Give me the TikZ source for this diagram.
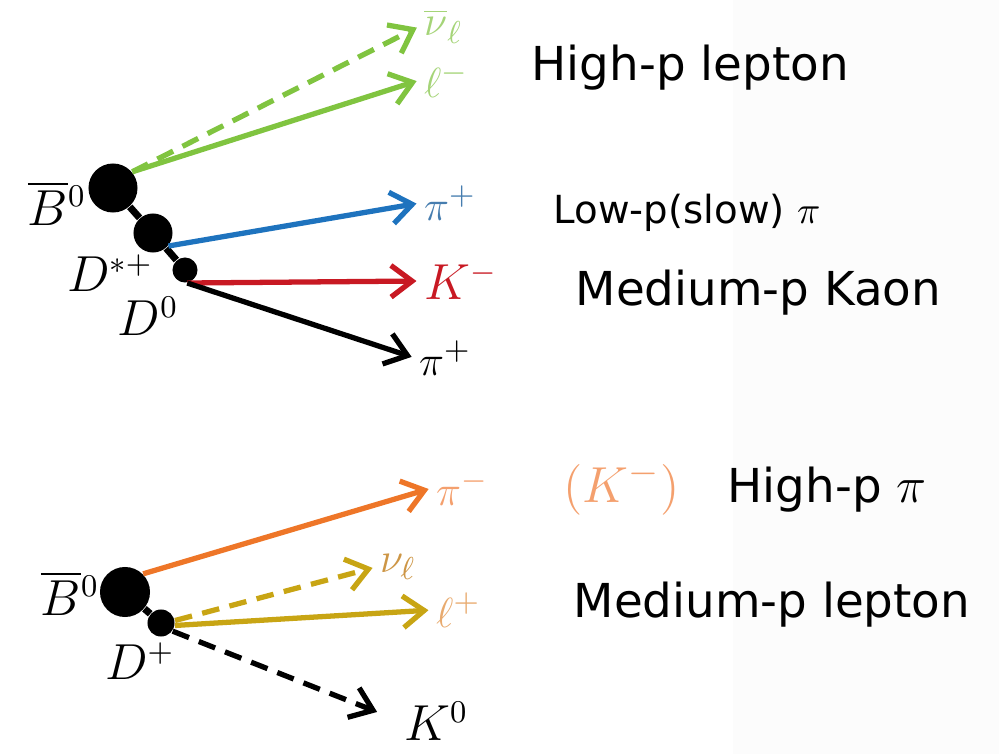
\documentclass[tikz,border=0pt]{standalone}
\usepackage{amsmath}
\usepackage{fontspec}
\newfontfamily\notefont{DejaVu Sans}
\usetikzlibrary{arrows.meta}
\definecolor{lepgreen}{RGB}{128,196,64}
\definecolor{lepgreenlt}{RGB}{165,212,120}
\definecolor{slowblue}{RGB}{30,115,190}
\definecolor{slowbluelt}{RGB}{70,125,175}
\definecolor{kaonred}{RGB}{200,25,35}
\definecolor{hiorange}{RGB}{238,118,40}
\definecolor{hiorangelt}{RGB}{244,160,110}
\definecolor{medolive}{RGB}{200,165,20}
\definecolor{medolivelt}{RGB}{205,150,70}
\definecolor{medorangelt}{RGB}{232,170,110}

\begin{document}
\begin{tikzpicture}[x=0.01cm,y=-0.01cm,>={Straight Barb[length=6pt,width=9pt]},
  vtx/.style={circle,fill=black,inner sep=0pt,minimum size=#1},
  trk/.style={->,line width=1.5pt,shorten >=1pt},
  dsh/.style={dash pattern=on 5pt off 3pt},
  lab/.style={inner sep=1pt,font=\fontsize{12.5}{14}\selectfont},
  biglab/.style={inner sep=1pt,font=\fontsize{13.5}{16}\selectfont},
  note/.style={anchor=base west,inner sep=0pt,font=\notefont\fontsize{13.3}{16}\selectfont}]
  \useasboundingbox (0,0) rectangle (999,754);
  \fill[black!1] (733,0) rectangle (999,754);

  % B0 -> D*+ l nu, D*+ -> D0 pi, D0 -> K pi
  \node[vtx=0.49cm] (B1) at (113,188) {};
  \node[vtx=0.39cm] (Dst) at (153,233) {};
  \node[vtx=0.25cm] (D0) at (185,270) {};
  \draw[line width=2pt] (B1) -- (Dst) -- (D0);
  \node[biglab] (B1lab) at (57,203) {$\overline{B}{}^0$};
  \node[biglab] (Dstlab) at (110,273) {$D^{*+}$};
  \node[biglab] (D0lab) at (148,316) {$D^0$};

  \node[lab,anchor=west,text=lepgreenlt] (nubar) at (420,26) {$\overline{\nu}_\ell$};
  \node[lab,anchor=west,text=lepgreenlt] (lmin) at (420,80) {$\ell^-$};
  \node[lab,anchor=west,text=slowbluelt] (pislow) at (420,203) {$\pi^+$};
  \node[biglab,anchor=west,text=kaonred] (Kmin) at (420,281) {$K^-$};
  \node[lab,anchor=west] (pifast) at (415,358) {$\pi^+$};

  \draw[trk,lepgreen,dsh] (B1.40) -- (nubar.west);
  \draw[trk,lepgreen] (B1.40) -- (lmin.west);
  \draw[trk,slowblue] (Dst.-40) -- (pislow.west);
  \foreach \to/\col in {Kmin/kaonred,pifast/black}
    \draw[trk,\col] (D0.-80) -- (\to.west);

  % B0 -> D+ pi, D+ -> K0 l nu
  \node[vtx=0.5cm] (B2) at (125,592) {};
  \node[vtx=0.27cm] (Dp) at (161,623) {};
  \draw[line width=2pt] (B2) -- (Dp);
  \node[biglab] (B2lab) at (70,593) {$\overline{B}{}^0$};
  \node[biglab] (Dplab) at (140,661) {$D^+$};

  \node[lab,anchor=west,text=hiorangelt] (pimin) at (432,488) {$\pi^-$};
  \node[lab,anchor=west,text=medolivelt] (nul) at (376,567) {$\nu_\ell$};
  \node[lab,anchor=west,text=medorangelt] (lplus) at (432,610) {$\ell^+$};
  \node[biglab,anchor=west] (K0) at (400,721) {$K^0$};
  \node[anchor=base west,inner sep=0pt,text=hiorangelt,font=\fontsize{15.5}{18}\selectfont]
    (Kalt) at (563,502) {$(K^-)$};

  \draw[trk,hiorange] (B2.45) -- (pimin.west);
  \draw[trk,medolive,dsh] (Dp.10) -- (nul.west);
  \draw[trk,medolive] (Dp.-10) -- (lplus.west);
  \draw[trk,black,dsh,shorten >=7pt] (Dp.-35) -- (K0.west);

  % momentum notes
  \node[note] (hplep) at (531,80) {High-p lepton};
  \node[note,font=\notefont\fontsize{11}{13}\selectfont] (slowpi) at (553,223) {Low-p(slow) $\pi$};
  \node[note] (mkaon) at (575,305) {Medium-p Kaon};
  \node[note] (hpi) at (727,502) {High-p $\pi$};
  \node[note] (mlep) at (573,617) {Medium-p lepton};
\end{tikzpicture}
\end{document}
